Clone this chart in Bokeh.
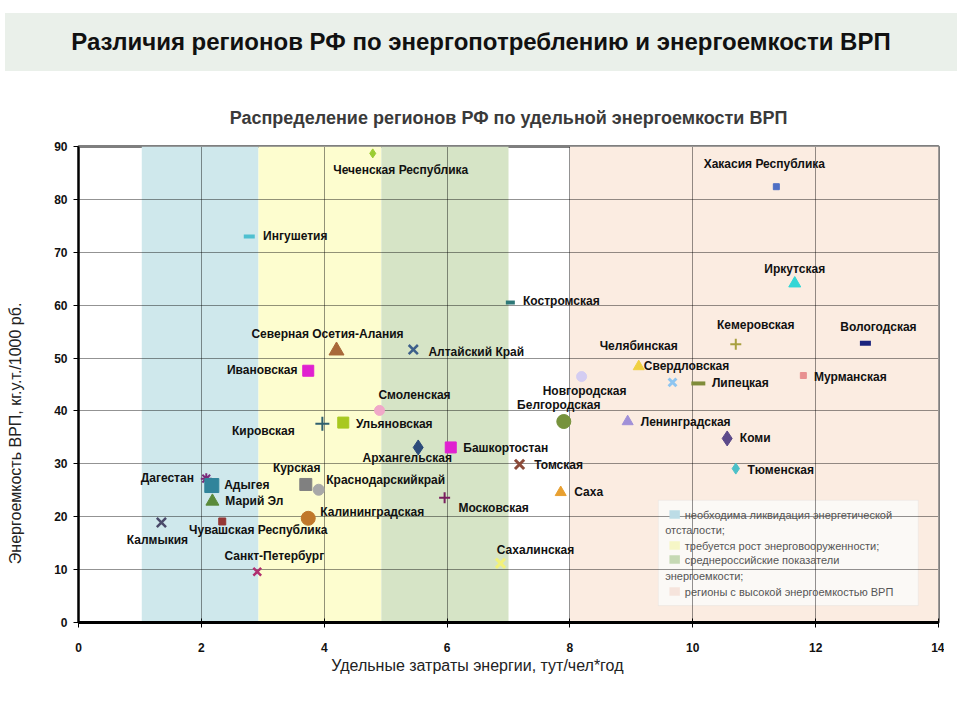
from bokeh.plotting import figure
from bokeh.models import Range1d, BoxAnnotation, Label, ColumnDataSource, Div, FixedTicker
from bokeh.layouts import column
from bokeh.embed import file_html
from bokeh.resources import INLINE
from bokeh.core.properties import value

# ---------------- data ----------------
regions = [
    "Чеченская Республика", "Хакасия Республика", "Ингушетия", "Костромская", "Иркутская",
    "Северная Осетия-Алания", "Алтайский Край", "Челябинская", "Свердловская", "Кемеровская",
    "Вологодская", "Ивановская", "Новгородская", "Липецкая", "Мурманская",
    "Смоленская", "Белгородская", "Ленинградская", "Кировская", "Ульяновская",
    "Коми", "Архангельская", "Башкортостан", "Томская", "Тюменская",
    "Дагестан", "Адыгея", "Курская", "Краснодарскийкрай", "Саха",
    "Марий Эл", "Московская", "Калининградская", "Калмыкия", "Чувашская Республика",
    "Санкт-Петербург", "Сахалинская",
]
energy_per_capita = [
    4.79, 11.36, 2.78, 7.03, 11.66,
    4.20, 5.45, 9.12, 9.67, 10.70,
    12.81, 3.74, 8.19, 10.09, 11.80,
    4.90, 7.90, 8.94, 3.97, 4.31,
    10.56, 5.53, 6.06, 7.18, 10.70,
    2.08, 2.17, 3.70, 3.91, 7.85,
    2.18, 5.96, 3.74, 1.35, 2.34,
    2.91, 6.87,
]
grp_intensity = [
    88.7, 82.4, 73.0, 60.5, 64.1,
    51.4, 51.6, 48.4, 45.4, 52.6,
    52.8, 47.6, 46.5, 45.2, 46.7,
    40.1, 38.0, 38.0, 37.6, 37.8,
    34.8, 33.1, 33.1, 29.9, 29.1,
    27.2, 25.9, 26.1, 25.1, 24.6,
    22.9, 23.6, 19.7, 18.9, 19.1,
    9.6, 11.2,
]

band_left = [1.03, 2.93, 4.93, 8.0]
band_right = [2.93, 4.93, 7.0, 14.0]
band_labels = [
    ["необходима ликвидация энергетической", "отсталости;"],
    ["требуется рост энерговооруженности;"],
    ["среднероссийские показатели", "энергоемкости;"],
    ["регионы с высокой энергоемкостью ВРП"],
]

x_ticks = [0, 2, 4, 6, 8, 10, 12, 14]
y_ticks = [0, 10, 20, 30, 40, 50, 60, 70, 80, 90]

TITLE = "Различия регионов РФ по энергопотреблению и энергоемкости ВРП"
SUBTITLE = "Распределение регионов РФ по удельной энергоемкости ВРП"
X_LABEL = "Удельные затраты энергии, тут/чел*год"
Y_LABEL = "Энергоемкость  ВРП, кг.у.т./1000  рб."

# ---------------- styles ----------------
marker_types = [
    "diamond", "square", "dash", "dash", "triangle",
    "triangle", "x", "triangle", "x", "cross",
    "dash", "square", "circle", "dash", "square",
    "circle", "circle", "triangle", "cross", "square",
    "diamond", "diamond", "square", "x", "diamond",
    "asterisk", "square", "square", "circle", "triangle",
    "triangle", "cross", "circle", "x", "square",
    "x", "x",
]
marker_colors = [
    "#9acd32", "#4f6fc4", "#4fc0d0", "#2e7878", "#33d6d6",
    "#a8683a", "#3d5f8a", "#f0d040", "#8ec5f0", "#a8a040",
    "#1a237e", "#e020d0", "#d4cdf2", "#7f8c3a", "#e89090",
    "#f0a8c8", "#76923c", "#a090d8", "#2f5f6f", "#a8c820",
    "#5c4a8a", "#2c4a7a", "#e020d0", "#8b4a3a", "#4cc0c8",
    "#7a2a7a", "#31849b", "#808080", "#a8a8a8", "#e8a030",
    "#5a8a3a", "#7a1f5f", "#c0782a", "#4a4a6a", "#953735",
    "#b03070", "#f2f27a",
]
marker_sizes = [
    9, 6, 11, 9, 12,
    15, 13, 11, 11, 11,
    11, 11, 10, 14, 6,
    10, 14, 11, 14, 11,
    15, 15, 11, 13, 11,
    11, 14, 12, 11, 11,
    13, 11, 14, 13, 7,
    11, 13,
]
marker_lw = [
    1, 1, 4, 4, 1,
    1, 2.5, 1, 3, 2,
    5, 1, 1, 4, 1,
    1, 1, 1, 2, 1,
    1, 1, 1, 3, 1,
    2, 1, 1, 1, 1,
    1, 2, 1, 2.5, 1,
    2.5, 3,
]
# label offsets (screen px) relative to each marker
label_dx = [
    28, -12, 46, 51, 0,
    -9, 63, 0, 14, 20,
    13, -46, 3, 42, 47,
    35, -5, 58, -59, 51,
    28, -11, 55, 39, 45,
    -39, 35, -9, 67, 28,
    42, 49, 64, -4, 36,
    17, 35,
]
label_dy = [
    17, -23, 0, -2, -14,
    -17, 2, -21, -16, -19,
    -16, -1, 14, 0, 1,
    -15, -17, 0, 7, 1,
    0, 11, 1, 1, 1,
    -1, -1, -16, -10, 0,
    0, 10, -6, 17, 9,
    -16, -13,
]

band_colors = ["#cfe8ec", "#fdfdcf", "#d6e4c6", "#fbece1"]
swatch_colors = ["#bcdce6", "#f6f6c6", "#c6d9b4", "#f6e4dc"]

FONT = "Liberation Sans"
NB = "\u00a0"

# ---------------- header ----------------
header = Div(
    text=(
        "<div style=\"margin-top:8px;height:58px;width:952px;background:#eaf0ea;"
        "display:flex;align-items:center;justify-content:center;"
        "font-family:'Liberation Sans',Arial,sans-serif;"
        f"font-weight:bold;font-size:24px;color:#111;\">{TITLE}</div>"
    ),
    width=952, height=74,
)

# ---------------- figure ----------------
p = figure(
    width=944, height=632,
    x_range=Range1d(0, 14), y_range=Range1d(0, 90),
    output_backend="svg", toolbar_location=None,
    min_border_left=78, min_border_right=6, min_border_top=62, min_border_bottom=94,
    title=SUBTITLE,
)
p.background_fill_color = "white"
p.border_fill_color = "white"
p.outline_line_color = "#7f7f7f"
p.outline_line_width = 3

p.title.align = "center"
p.title.text_font = FONT
p.title.text_font_size = "18px"
p.title.text_font_style = "bold"
p.title.text_color = "#3a3a3a"
p.title.standoff = 38

# bands
for l, r, c in zip(band_left, band_right, band_colors):
    p.add_layout(BoxAnnotation(left=l, right=r, bottom=0, top=90, fill_color=c,
                               fill_alpha=1, line_alpha=0, level="image"))

# axes
p.xaxis.ticker = FixedTicker(ticks=x_ticks)
p.yaxis.ticker = FixedTicker(ticks=y_ticks)
for ax in (p.xaxis, p.yaxis):
    ax.major_label_text_font = FONT
    ax.major_label_text_font_size = "12px"
    ax.major_label_text_font_style = "bold"
    ax.major_label_text_color = "#111"
    ax.axis_line_color = "black"
    ax.major_tick_line_color = "black"
    ax.minor_tick_line_color = None
    ax.axis_label_text_font = FONT
    ax.axis_label_text_font_style = "normal"
    ax.axis_label_text_color = "#222"
p.xaxis.axis_line_width = 3
p.yaxis.axis_line_width = 2
p.xaxis.major_tick_in = 4
p.xaxis.major_tick_out = 5
p.yaxis.major_tick_in = 0
p.yaxis.major_tick_out = 5
p.xaxis.major_label_standoff = 15
p.yaxis.major_label_standoff = 6
p.xaxis.axis_label = X_LABEL + NB * 14
p.yaxis.axis_label = Y_LABEL + NB * 20
p.xaxis.axis_label_text_font_size = "16px"
p.yaxis.axis_label_text_font_size = "16px"
p.xaxis.axis_label_standoff = 2
p.yaxis.axis_label_standoff = 27

p.xgrid.ticker = FixedTicker(ticks=x_ticks[1:-1])
p.ygrid.ticker = FixedTicker(ticks=y_ticks[1:-1])
for g in (p.xgrid, p.ygrid):
    g.grid_line_color = "black"
    g.grid_line_dash = "1 1"
    g.grid_line_width = 1
    g.grid_line_alpha = 0.85

# legend box (drawn under grid like the original)
p.add_layout(BoxAnnotation(left=9.44, right=13.67, bottom=3.2, top=23.1,
                           fill_color="#fbf9f6", fill_alpha=1,
                           line_color="#d9d9d9", line_width=1, level="image"))

# legend content
row_y = [514, 545, 559, 591]
cont_y = {0: 529, 2: 575}
for i, labs in enumerate(band_labels):
    yy = (622 - row_y[i]) / 5.289
    p.add_layout(BoxAnnotation(left=9.62, right=9.79, bottom=yy - 0.8, top=yy + 0.8,
                               fill_color=swatch_colors[i], fill_alpha=1,
                               line_alpha=0))
    p.add_layout(Label(x=9.87, y=yy, text=labs[0], text_font=FONT,
                       text_font_size="11px", text_color="#555",
                       text_baseline="middle"))
    if len(labs) > 1:
        y2 = (622 - cont_y[i]) / 5.289
        p.add_layout(Label(x=9.55, y=y2, text=labs[1], text_font=FONT,
                           text_font_size="11px", text_color="#555",
                           text_baseline="middle"))

# points
src = ColumnDataSource(dict(
    x=energy_per_capita, y=grp_intensity, name=regions,
    marker=marker_types, color=marker_colors, size=marker_sizes, lw=marker_lw,
    dx=label_dx, dy=label_dy,
))
p.scatter("x", "y", source=src, marker="marker", size="size",
          fill_color="color", line_color="color", line_width="lw")
p.text("x", "y", text="name", source=src, x_offset="dx", y_offset="dy",
       text_align="center", text_baseline="middle",
       text_font=value(FONT), text_font_size="12px", text_font_style="bold",
       text_color="#111")

layout = column(header, p, spacing=0)
open("out.html", "w").write(file_html(layout, INLINE))
